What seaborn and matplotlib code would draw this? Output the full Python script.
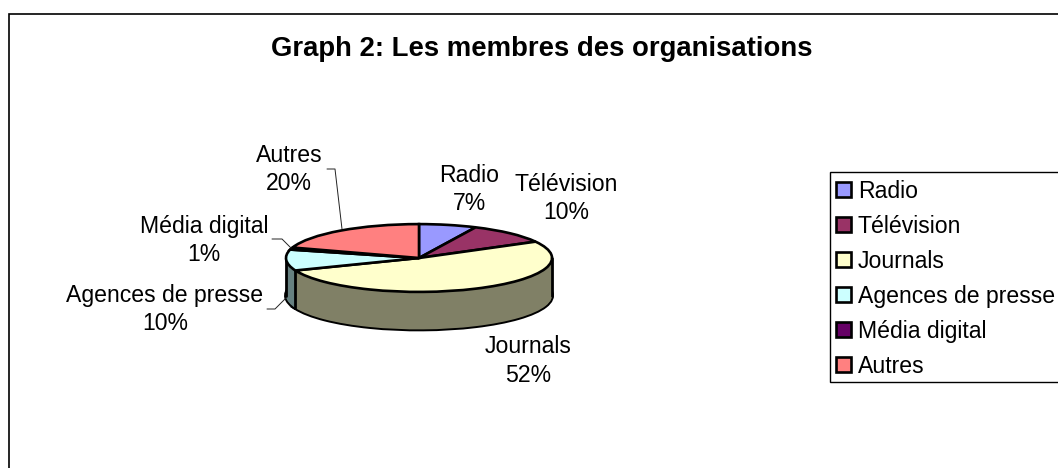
import numpy as np
import seaborn as sns
import matplotlib.pyplot as plt
from matplotlib.patches import Rectangle

categories = ['Radio', 'Télévision', 'Journals', 'Agences de presse', 'Média digital', 'Autres']
values = [7, 10, 52, 10, 1, 20]
top_colors = ['#9999FF', '#993366', '#FFFFCC', '#CCFFFF', '#660066', '#FF8080']
side_colors = ['#4D4D80', '#4D1A33', '#808066', '#668080', '#330033', '#804040']

sns.set_theme(style='white')
plt.rcParams['font.family'] = ['Liberation Sans', 'DejaVu Sans']

W, H = 1058, 468
# pie is flattened: y axis stretched so a circle of r=133 looks 34 px high
k = 133 / 33.9


def px(x, y):
    return x, (H - y) * k


fig = plt.figure(figsize=(W / 100, H / 100), dpi=100)
ax = fig.add_axes([0, 0, 1, 1])

cx, cy, r, depth = 419, 258, 133, 37.5

# bottom outline
ax.pie(values, colors=side_colors, radius=r, center=px(cx, cy + depth), startangle=90, counterclock=False,
       frame=True, wedgeprops={'edgecolor': 'black', 'linewidth': 2.8, 'zorder': 1})

# side wall, stacked pies
for off in np.arange(depth, -0.1, -0.75):
    ax.pie(values, colors=side_colors, radius=r, center=px(cx, cy + off), startangle=90, counterclock=False,
           frame=True, wedgeprops={'edgecolor': 'none', 'linewidth': 0, 'zorder': 2})

# vertical edges of the wall
edges = np.cumsum(values)[2] / sum(values) * 2 * np.pi
for x, y in [(cx - r, cy), (cx + r, cy), (cx + r * np.sin(edges), cy - r / k * np.cos(edges))]:
    ax.plot(*zip(px(x, y), px(x, y + depth)), color='black', lw=2.0, zorder=3)

# top of the pie
wedges, _ = ax.pie(values, colors=top_colors, radius=r, center=px(cx, cy), startangle=90, counterclock=False,
                   frame=True, wedgeprops={'edgecolor': 'black', 'linewidth': 1.9, 'zorder': 4})

ax.set_aspect('auto')
ax.set_xlim(0, W)
ax.set_ylim(0, H * k)
ax.set_xticks([])
ax.set_yticks([])
for s in ax.spines.values():
    s.set_visible(False)

# data labels
label_pos = [(469, 189.5), (566, 198.5), (528, 361), (165, 309.5), (204, 240.5), (289, 169.5)]
for name, val, (x, y) in zip(categories, values, label_pos):
    ax.text(*px(x, y), f'{name}\n{val}%', ha='center', va='center', fontsize=16.6, color='black',
            linespacing=1.32, zorder=6)

# leader lines
leaders = [[(327, 169), (335, 169), (342, 229)],
           [(272, 239), (282, 239), (291, 248)],
           [(267, 309), (275, 309), (286, 298)]]
for pts in leaders:
    ax.plot(*zip(*[px(*p) for p in pts]), color='#222222', lw=0.7, zorder=5)

ax.text(*px(542, 49), 'Graph 2: Les membres des organisations', ha='center', va='center',
        fontsize=19.85, fontweight='bold', color='black')

# chart area border
ax.add_patch(Rectangle((8.5, -10), W + 20, (H - 13.5) * k + 10, fill=False, edgecolor='black', lw=1.2,
                       zorder=0))

# legend box drawn apart, the text block of the legend is taller than the box
ax.add_patch(Rectangle(px(829.5, 381.5), W, 210 * k, facecolor='white', edgecolor='black', lw=1.0, zorder=7))
leg = ax.legend(wedges, categories, loc='upper left', bbox_to_anchor=(826 / W, 1 - 170 / H), borderaxespad=0,
                fontsize=16.6, frameon=False, labelcolor='black',
                handlelength=0.66, handleheight=0.66, handletextpad=0.3, labelspacing=0.52, borderpad=0.42)
leg.set_zorder(8)
for h in leg.get_patches():
    h.set_linewidth(1.9)

fig.savefig('out.png', dpi=100, facecolor='white')
